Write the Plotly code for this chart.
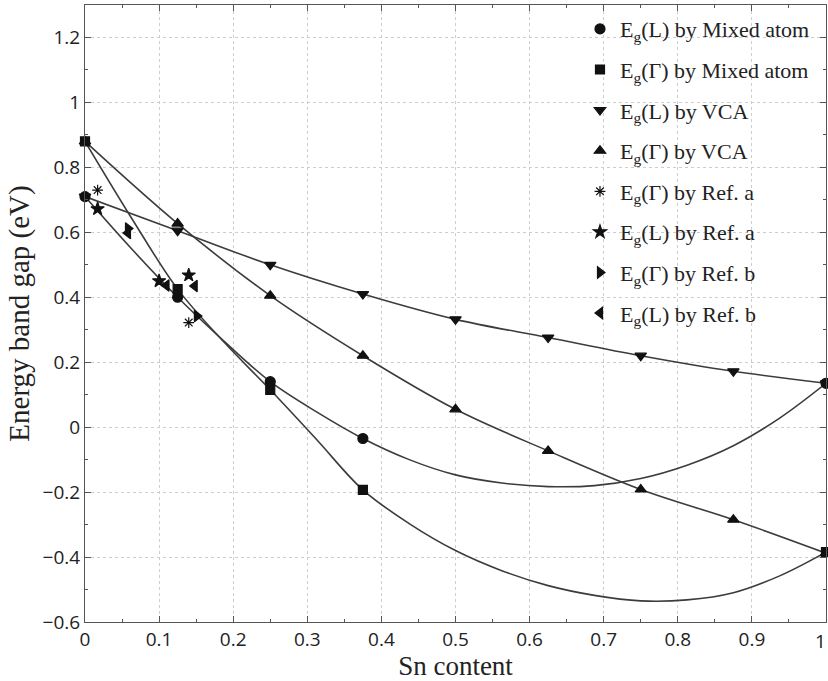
import plotly.graph_objects as go

# Sn content grid of the calculated alloys
x_calc = [0, 0.125, 0.25, 0.375, 0.5, 0.625, 0.75, 0.875, 1]

# Mixed-atom results
x_mixed = [0, 0.125, 0.25, 0.375, 1]
mixed_L = [0.71, 0.40, 0.14, -0.035, 0.135]
mixed_G = [0.88, 0.425, 0.115, -0.193, -0.385]

# Fitted bowing curves through the mixed-atom results
x_curve = [0, 0.0625, 0.125, 0.1875, 0.25, 0.3125, 0.375, 0.4375, 0.5,
           0.5625, 0.625, 0.6875, 0.75, 0.8125, 0.875, 0.9375, 1]
mixed_L_curve = [0.71, 0.55, 0.40, 0.265, 0.14, 0.047, -0.035, -0.10, -0.147,
                 -0.172, -0.183, -0.180, -0.158, -0.117, -0.057, 0.028, 0.135]
mixed_G_curve = [0.88, 0.645, 0.425, 0.262, 0.115, -0.038, -0.193, -0.297, -0.38,
                 -0.442, -0.488, -0.518, -0.535, -0.532, -0.51, -0.458, -0.385]

# Virtual crystal approximation results
vca_L = [0.71, 0.605, 0.50, 0.41, 0.332, 0.276, 0.22, 0.172, 0.135]
vca_G = [0.88, 0.627, 0.405, 0.22, 0.055, -0.073, -0.192, -0.285, -0.388]

# Reference data
refa_G_x = [0.017, 0.14]
refa_G = [0.73, 0.322]
refa_L_x = [0.017, 0.10, 0.14]
refa_L = [0.672, 0.45, 0.468]
refb_G_x = [0.058, 0.151]
refb_G = [0.612, 0.342]
refb_L_x = [0.058, 0.11, 0.148]
refb_L = [0.598, 0.436, 0.435]

x_ticks = [0, 0.1, 0.2, 0.3, 0.4, 0.5, 0.6, 0.7, 0.8, 0.9, 1]
# the label at x = 1 is placed separately so it stays inside the page edge
x_tick_text = ["0", "0.1", "0.2", "0.3", "0.4", "0.5", "0.6", "0.7", "0.8", "0.9", ""]
last_tick_label = "1"

line_style = dict(color="#3c3c3c", width=1.6, shape="spline", smoothing=1.0)
mk_color = "#111111"
tick_font = dict(family="Open Sans, sans-serif", size=19, color="#222222")

fig = go.Figure()

# curves (no legend entries)
for yy in (mixed_L_curve, mixed_G_curve):
    fig.add_trace(go.Scatter(x=x_curve, y=yy, mode="lines", line=line_style,
                             showlegend=False, hoverinfo="skip"))
for yy in (vca_L, vca_G):
    fig.add_trace(go.Scatter(x=x_calc, y=yy, mode="lines", line=line_style,
                             showlegend=False, hoverinfo="skip"))

series = [
    ("E<sub>g</sub>(L) by Mixed atom", x_mixed, mixed_L, "circle", 10),
    ("E<sub>g</sub>(Γ) by Mixed atom", x_mixed, mixed_G, "square", 9),
    ("E<sub>g</sub>(L) by VCA", x_calc, vca_L, "triangle-down", 10),
    ("E<sub>g</sub>(Γ) by VCA", x_calc, vca_G, "triangle-up", 10),
    ("E<sub>g</sub>(Γ) by Ref. a", refa_G_x, refa_G, "asterisk-open", 9),
    ("E<sub>g</sub>(L) by Ref. a", refa_L_x, refa_L, "star", 10),
    ("E<sub>g</sub>(Γ) by Ref. b", refb_G_x, refb_G, "triangle-right", 10),
    ("E<sub>g</sub>(L) by Ref. b", refb_L_x, refb_L, "triangle-left", 10),
]

for i, (name, xs, ys, sym, size) in enumerate(series):
    fig.add_trace(go.Scatter(
        x=xs, y=ys, mode="markers", name=name, legendgroup=f"g{i}",
        marker=dict(symbol=sym, size=size, color=mk_color,
                    line=dict(color=mk_color, width=1.2)),
        cliponaxis=False,
    ))

axis_common = dict(
    showline=True, linecolor="#555555", linewidth=1, mirror="ticks",
    ticks="inside", ticklen=6, tickcolor="#555555",
    showgrid=True, gridcolor="#cdcdcd", griddash="dot", gridwidth=1,
    zeroline=False, automargin=False,
    tickfont=tick_font,
)

fig.update_xaxes(
    range=[0, 1], tickmode="array", tickvals=x_ticks, ticktext=x_tick_text,
    minor=dict(dtick=0.05, tick0=0, ticks="inside", ticklen=3, tickcolor="#555555", showgrid=False),
    title=dict(text="Sn content", font=dict(family="Liberation Serif, serif", size=27, color="#222222"),
               standoff=2),
    **axis_common,
)
fig.update_yaxes(
    range=[-0.6, 1.3], dtick=0.2, tick0=0,
    minor=dict(dtick=0.1, ticks="inside", ticklen=3, tickcolor="#555555", showgrid=False),
    title=dict(text="Energy band gap (eV)", font=dict(family="Liberation Serif, serif", size=29, color="#222222"),
               standoff=4),
    **axis_common,
)

fig.add_annotation(
    x=x_ticks[-1], xref="x", y=0, yref="paper", text=last_tick_label,
    showarrow=False, xanchor="right", yanchor="top", xshift=2, yshift=-4,
    font=tick_font,
)

fig.update_layout(
    width=828, height=681,
    margin=dict(l=85, r=2, t=5, b=59, autoexpand=False),
    paper_bgcolor="white", plot_bgcolor="white",
    legend=dict(
        x=0.668, y=0.995, xanchor="left", yanchor="top",
        bgcolor="rgba(255,255,255,0)", borderwidth=0,
        font=dict(family="Liberation Serif, serif", size=22, color="#222222"),
        tracegroupgap=9, itemwidth=30,
    ),
)

fig.write_html("out.html")
